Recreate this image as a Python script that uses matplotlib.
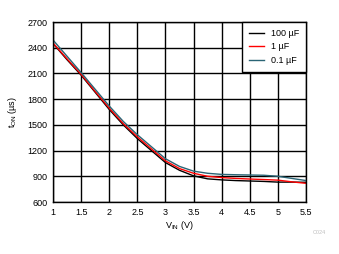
import matplotlib
matplotlib.use("Agg")
import matplotlib.pyplot as plt

# supply voltage (V)
vin = [1.0, 1.25, 1.5, 1.75, 2.0, 2.25, 2.5, 2.75, 3.0, 3.25, 3.5, 3.75,
       4.0, 4.25, 4.5, 4.75, 5.0, 5.25, 5.5]
# turn-on time (us) per output capacitance
t_100uf = [2450, 2260, 2080, 1880, 1680, 1500, 1340, 1200, 1060, 970, 905, 870,
           858, 850, 845, 840, 832, 832, 830]
t_1uf = [2455, 2270, 2090, 1890, 1695, 1515, 1360, 1220, 1080, 990, 935, 900,
         885, 875, 868, 862, 855, 835, 818]
t_01uf = [2490, 2300, 2110, 1915, 1720, 1540, 1385, 1245, 1105, 1015, 960, 935,
          922, 918, 915, 912, 900, 875, 850]

xticks = [1, 1.5, 2, 2.5, 3, 3.5, 4, 4.5, 5, 5.5]
xticklabels = ["1", "1.5", "2", "2.5", "3", "3.5", "4", "4.5", "5", "5.5"]
yticks = [600, 900, 1200, 1500, 1800, 2100, 2400, 2700]

plt.rcParams["font.family"] = ["Liberation Sans", "DejaVu Sans"]

fig = plt.figure(figsize=(3.39, 2.54), dpi=100)
ax = fig.add_axes([53 / 339, 1 - 202 / 254, 253 / 339, 180 / 254])

ax.plot(vin, t_100uf, color="black", lw=1.0, label="100 µF")
ax.plot(vin, t_1uf, color="#ff0000", lw=1.0, label="1 µF")
ax.plot(vin, t_01uf, color="#2a6475", lw=1.0, label="0.1 µF")

ax.set_xlim(1, 5.5)
ax.set_ylim(600, 2700)
ax.set_xticks(xticks)
ax.set_xticklabels(xticklabels)
ax.set_yticks(yticks)
ax.grid(True, color="black", lw=1.0)
ax.tick_params(length=0, labelsize=6.5, pad=4)
for s in ax.spines.values():
    s.set_color("black")
    s.set_linewidth(1.0)

ax.set_xlabel("V$_{\\mathregular{IN}}$ (V)", fontsize=6.5, labelpad=2)
ax.set_ylabel("t$_{\\mathregular{ON}}$ (µs)", fontsize=6.5, labelpad=6)

leg = ax.legend(loc="upper right", fontsize=6.5, frameon=True, fancybox=False,
                borderaxespad=0, handlelength=1.7, labelspacing=0.5,
                borderpad=0.75, handletextpad=0.75)
leg.get_frame().set_edgecolor("black")
leg.get_frame().set_linewidth(1.0)
leg.get_frame().set_alpha(1)

fig.text(313 / 339, 1 - 234 / 254, "C024", fontsize=4, color="#c0c0c0")

fig.savefig("out.png", dpi=100)
